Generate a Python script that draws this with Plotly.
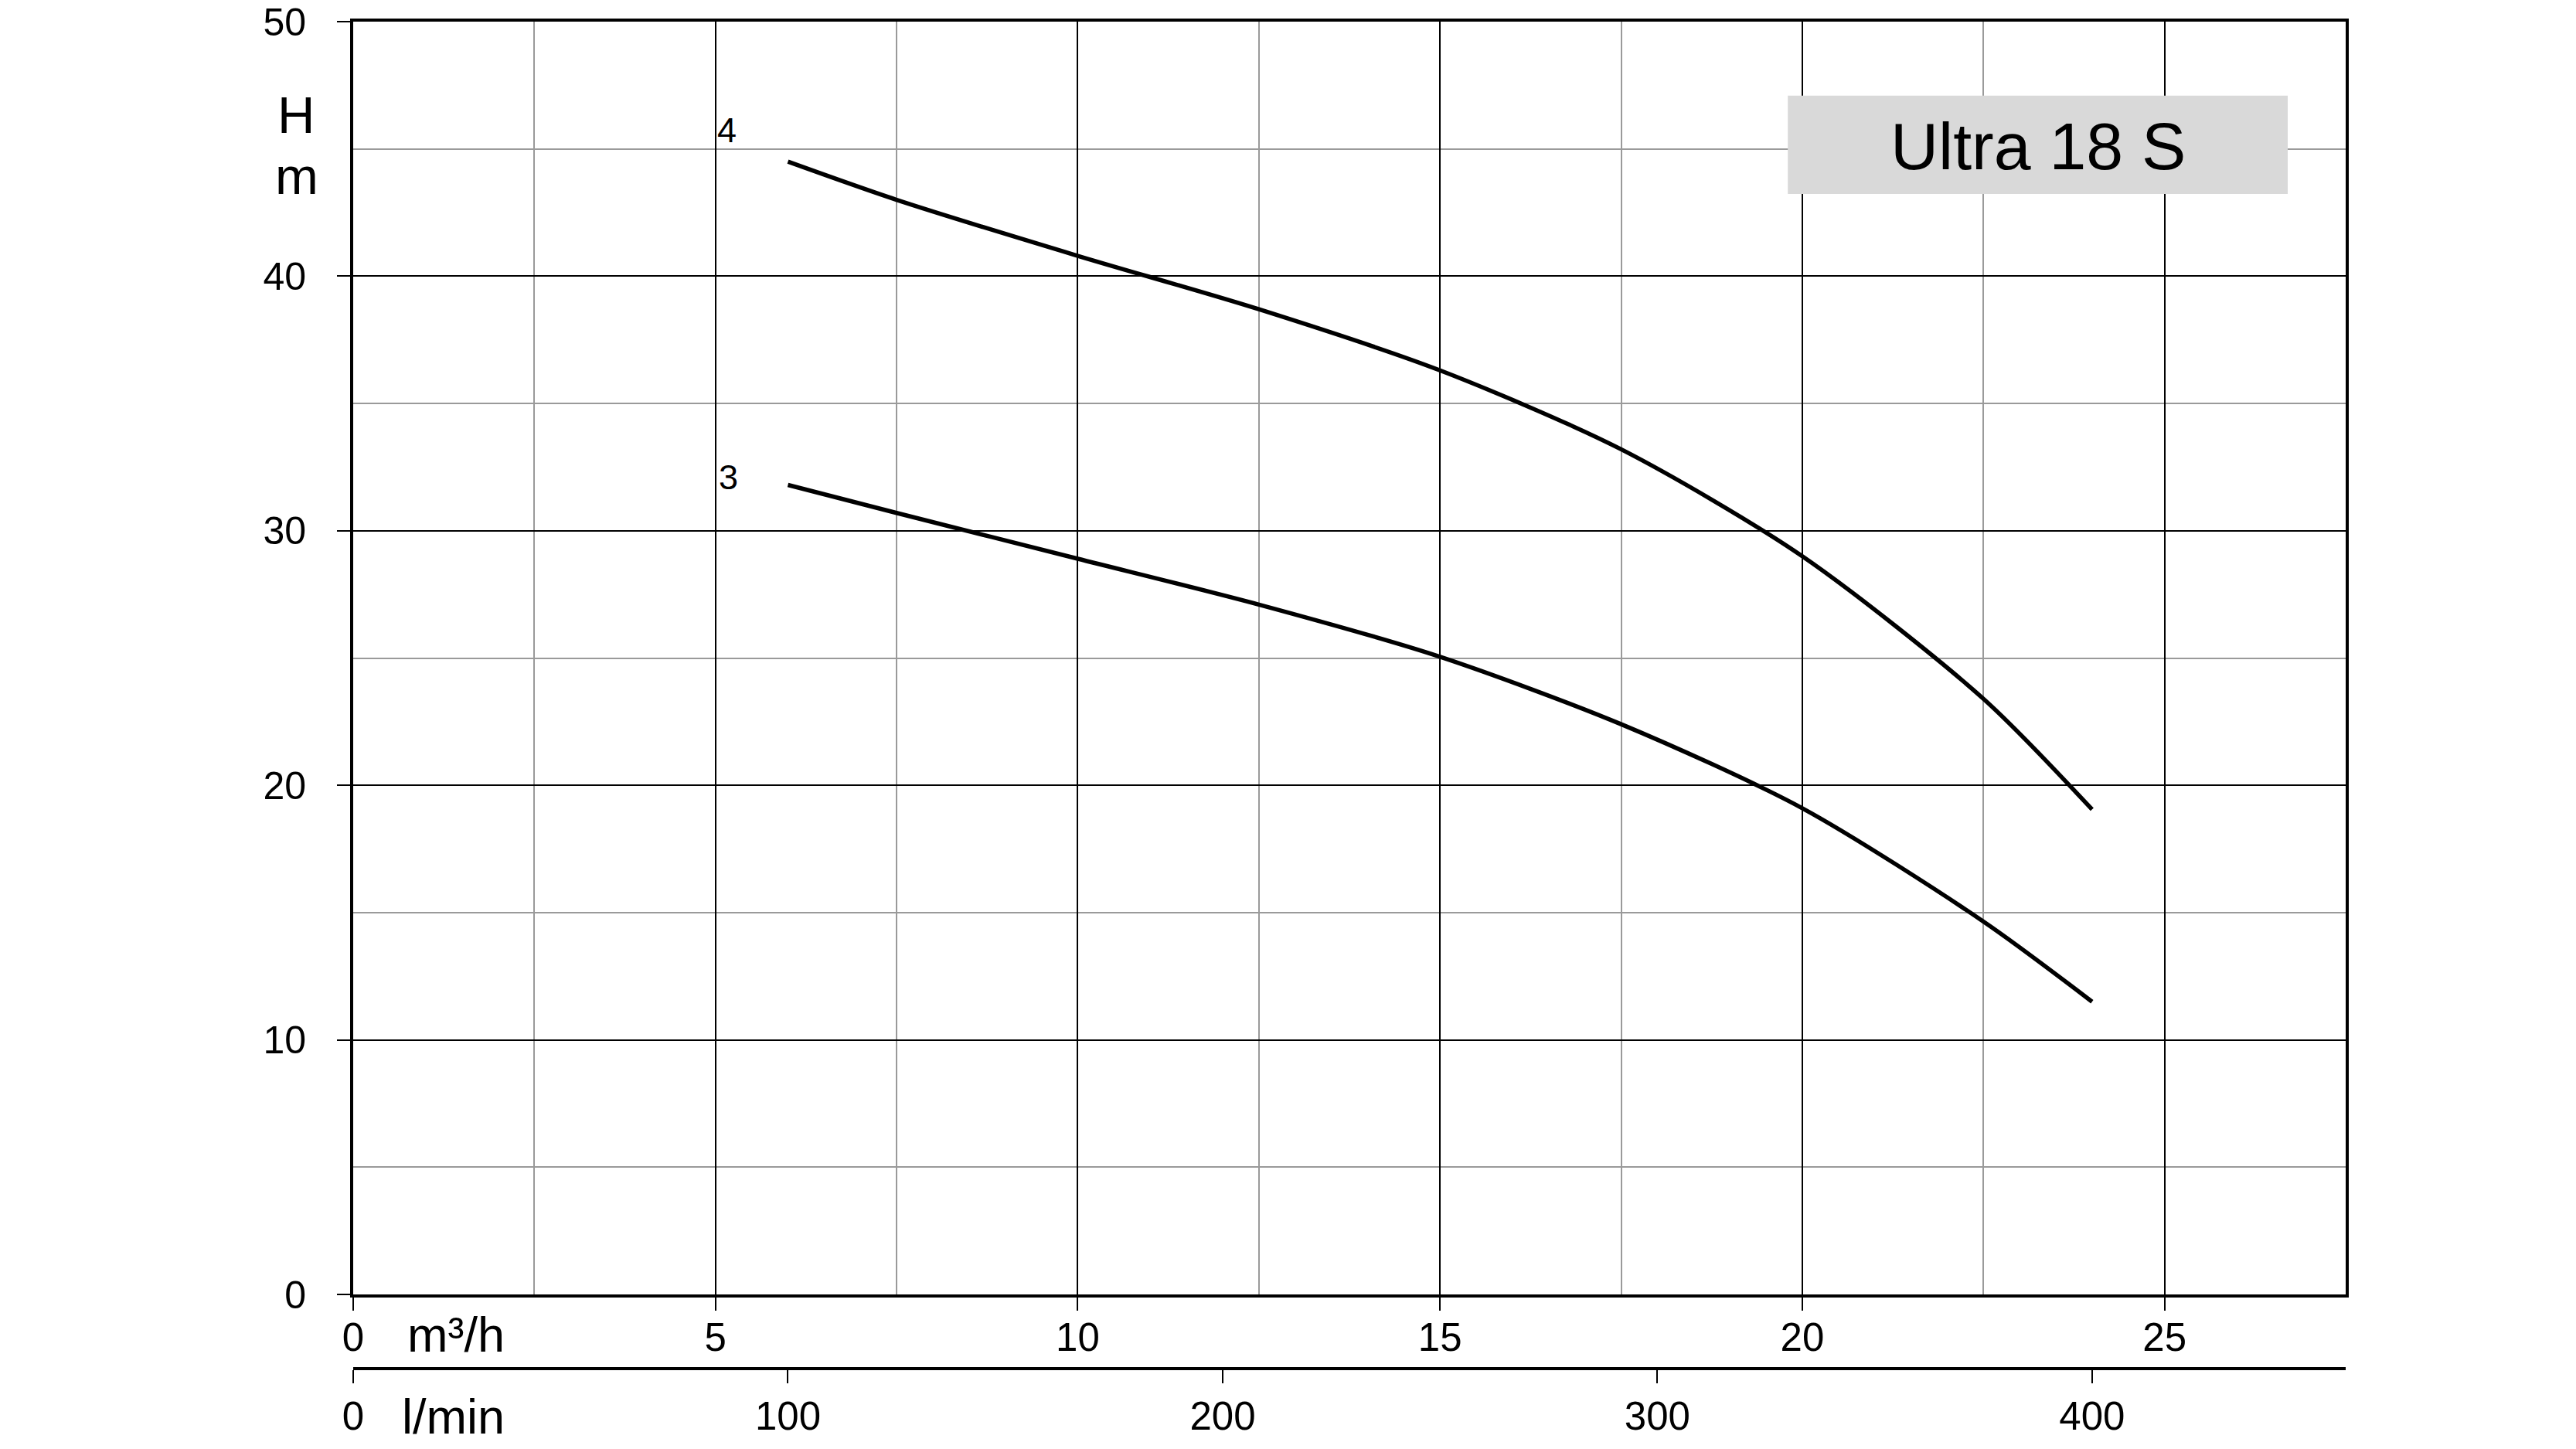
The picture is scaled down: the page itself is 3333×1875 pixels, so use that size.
import plotly.graph_objects as go

# ---- data ----
flow_m3h = [6, 7.5, 10, 12.5, 15, 17.5, 20, 22.5, 24]
head_4 = [44.5, 43.0, 40.8, 38.7, 36.3, 33.2, 29.0, 23.4, 19.05]
head_3 = [31.8, 30.7, 28.9, 27.1, 25.05, 22.4, 19.1, 14.65, 11.5]
curve_names = ["4", "3"]
x_ticks_m3h = [0, 5, 10, 15, 20, 25]
x_ticks_lmin = [0, 100, 200, 300, 400]
y_ticks = [0, 10, 20, 30, 40, 50]
title_text = "Ultra 18 S"

X_MAX = 27.5
M3H_TO_LMIN = 1000 / 60
FONT = "Liberation Sans, Arial, sans-serif"

# page has an 8px body margin: paper origin sits at page (8, 8)
W, H = 3317, 1859
ML, MR, MT, MB = 449, 290, 20, 67
PAPER_BOTTOM = 8 + H - MB          # page y of paper-area bottom
paper_h = H - MT - MB
paper_w = W - ML - MR
PLOT_LEFT = 8 + ML
plot_bottom_px = 1675
y_dom0 = (PAPER_BOTTOM - plot_bottom_px) / paper_h
lmin_axis_px = 1771
lmin_pos = (PAPER_BOTTOM - lmin_axis_px) / paper_h


def px_x(px):
    return (px - PLOT_LEFT) / paper_w


def px_y(py):
    return (PAPER_BOTTOM - py) / paper_h


fig = go.Figure()
fig.add_trace(go.Scatter(
    x=flow_m3h, y=head_4, mode="lines", name=curve_names[0], xaxis="x",
    line=dict(color="black", width=5.5, shape="spline", smoothing=0.8),
    hoverinfo="skip", showlegend=False,
))
fig.add_trace(go.Scatter(
    x=[q * M3H_TO_LMIN for q in flow_m3h], y=head_3, mode="lines",
    name=curve_names[1], xaxis="x2",
    line=dict(color="black", width=5.5, shape="spline", smoothing=0.8),
    hoverinfo="skip", showlegend=False,
))

fig.update_layout(
    width=W, height=H,
    margin=dict(l=ML, r=MR, t=MT, b=MB, pad=0, autoexpand=False),
    paper_bgcolor="white", plot_bgcolor="white",
    font=dict(family=FONT, color="black", size=50),
    xaxis=dict(
        range=[0, X_MAX], tickvals=x_ticks_m3h, ticks="outside", ticklen=17,
        tickwidth=2, tickcolor="black", showgrid=True, gridcolor="black",
        gridwidth=2, showline=True, linewidth=4, linecolor="black", mirror=True,
        zeroline=False, tickfont=dict(size=51), ticklabelstandoff=-9,
        ticklabeloverflow="allow", automargin=False,
        minor=dict(dtick=2.5, tick0=0, showgrid=True, gridcolor="#9a9a9a",
                   gridwidth=2, ticks=""),
        domain=[0, 1],
    ),
    xaxis2=dict(
        overlaying="x", anchor="free", position=lmin_pos, side="bottom",
        range=[0, X_MAX * M3H_TO_LMIN], tickvals=x_ticks_lmin, ticks="outside",
        ticklen=17, tickwidth=2, tickcolor="black", showgrid=False,
        showline=True, linewidth=4, linecolor="black", zeroline=False,
        tickfont=dict(size=51), ticklabelstandoff=-1,
        ticklabeloverflow="allow", automargin=False,
    ),
    yaxis=dict(
        range=[0, 50], tickvals=y_ticks, ticks="outside", ticklen=17,
        tickwidth=2, tickcolor="black", showgrid=True, gridcolor="black",
        gridwidth=2, showline=True, linewidth=4, linecolor="black", mirror=True,
        zeroline=False, tickfont=dict(size=50), ticklabelstandoff=30,
        ticklabeloverflow="allow", automargin=False,
        minor=dict(dtick=5, tick0=0, showgrid=True, gridcolor="#9a9a9a",
                   gridwidth=2, ticks=""),
        domain=[y_dom0, 1],
    ),
    hovermode=False,
)

# title box
fig.add_shape(type="rect", xref="x", yref="y", x0=19.8, x1=26.7, y0=43.23, y1=47.09,
              fillcolor="#d9d9d9", line=dict(width=0), layer="above")
fig.add_annotation(x=23.25, y=45.1, xref="x", yref="y", text=title_text,
                   showarrow=False, xanchor="center", yanchor="middle",
                   font=dict(size=86, family=FONT))

# curve labels
fig.add_annotation(x=5.16, y=45.75, xref="x", yref="y", text=curve_names[0],
                   showarrow=False, xanchor="center", yanchor="middle",
                   font=dict(size=45, family=FONT))
fig.add_annotation(x=5.18, y=32.1, xref="x", yref="y", text=curve_names[1],
                   showarrow=False, xanchor="center", yanchor="middle",
                   font=dict(size=45, family=FONT))

# axis titles
fig.add_annotation(x=px_x(383), y=px_y(148), xref="paper", yref="paper", text="H",
                   showarrow=False, xanchor="center", yanchor="middle",
                   font=dict(size=67, family=FONT))
fig.add_annotation(x=px_x(384), y=px_y(228), xref="paper", yref="paper", text="m",
                   showarrow=False, xanchor="center", yanchor="middle",
                   font=dict(size=67, family=FONT))
fig.add_annotation(x=px_x(590), y=px_y(1727), xref="paper", yref="paper", text="m³/h",
                   showarrow=False, xanchor="center", yanchor="middle",
                   font=dict(size=63, family=FONT))
fig.add_annotation(x=px_x(586), y=px_y(1833), xref="paper", yref="paper", text="l/min",
                   showarrow=False, xanchor="center", yanchor="middle",
                   font=dict(size=63, family=FONT))

fig.write_html("out.html")
